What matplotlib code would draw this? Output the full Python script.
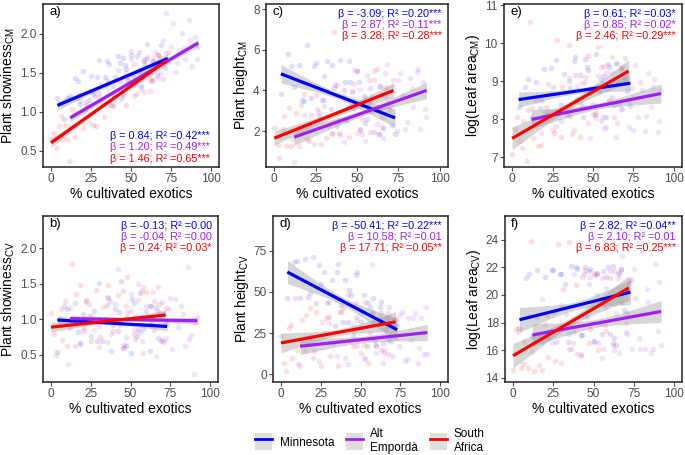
import numpy as np
import matplotlib.pyplot as plt
from matplotlib.lines import Line2D
from matplotlib.patches import Patch

plt.rcParams['font.family'] = ['Liberation Sans', 'DejaVu Sans']
plt.rcParams['mathtext.fontset'] = 'custom'
plt.rcParams['mathtext.rm'] = 'Liberation Sans'
plt.rcParams['mathtext.it'] = 'Liberation Sans:italic'
plt.rcParams['mathtext.bf'] = 'Liberation Sans:bold'

regions = ["Minnesota", "Alt\nEmpordà", "South\nAfrica"]
colors = ["#0000FF", "#A020F0", "#FF0000"]

# % cultivated exotics per site (same sites in every panel)
mn_x = [4, 8, 12, 15, 18, 20, 22, 25, 27, 30, 32, 34, 36, 38, 40, 42, 44, 46, 48, 50,
        52, 54, 56, 58, 60, 62, 64, 66, 69, 73,
        10, 17, 24, 29, 35, 39, 43, 47, 51, 55, 59, 63, 67, 71, 45]
ae_x = [12, 18, 24, 30, 35, 38, 42, 45, 48, 50, 52, 55, 57, 60, 62, 64, 66, 68, 70, 72,
        74, 76, 78, 80, 82, 84, 86, 88, 90, 92,
        27, 40, 47, 53, 58, 63, 67, 71, 75, 79, 83, 87, 91, 65, 56]
sa_x = [0, 3, 5, 7, 9, 11, 13, 15, 18, 20, 22, 25, 28, 30, 33, 36, 39, 42, 45, 48,
        50, 53, 55, 58, 60, 62, 65, 67, 70, 72,
        2, 6, 10, 16, 21, 26, 31, 37, 43, 47, 52, 57, 63, 68, 35]

# a) plant showiness CM
a_mn = [1.18, 0.91, 1.20, 1.43, 1.10, 1.52, 1.09, 1.46, 1.23, 1.66, 1.12, 1.44, 1.61, 1.23, 1.44,
        1.71, 1.18, 1.60, 1.36, 1.73, 1.45, 1.71, 1.33, 1.65, 1.87, 1.48, 1.65, 1.47, 1.85, 1.63,
        1.18, 1.39, 1.15, 1.45, 1.65, 1.33, 1.62, 1.55, 1.34, 1.77, 1.61, 1.39, 1.73, 1.56, 1.69]
a_ae = [0.82, 1.14, 0.86, 1.24, 1.40, 1.08, 1.53, 1.22, 1.40, 1.68, 1.20, 1.54, 1.41, 1.70, 1.27,
        1.69, 1.62, 1.49, 1.92, 2.27, 1.76, 2.14, 1.51, 1.79, 2.01, 1.68, 2.18, 1.58, 1.96, 1.83,
        1.20, 1.16, 1.49, 1.36, 1.67, 1.63, 1.43, 1.68, 1.83, 1.62, 1.82, 1.92, 1.67, 1.76, 1.30]
a_sa = [0.65, 0.54, 0.82, 0.65, 0.83, 0.37, 1.04, 0.67, 1.21, 0.79, 1.12, 1.27, 0.81, 1.19, 0.93,
        1.38, 1.07, 1.41, 1.21, 1.40, 1.78, 1.22, 1.50, 1.25, 1.68, 1.41, 1.60, 1.73, 1.42, 1.75,
        0.73, 0.94, 0.65, 1.18, 1.01, 0.83, 1.35, 1.09, 1.38, 1.09, 1.61, 1.48, 1.42, 1.69, 1.31]
# b) plant showiness CV
b_mn = [0.54, 1.18, 0.88, 1.23, 0.67, 1.07, 1.27, 0.76, 1.11, 1.51, 0.70, 1.00, 1.30, 0.55, 1.14,
        0.84, 1.54, 0.64, 1.03, 0.53, 1.23, 0.77, 1.37, 0.87, 1.12, 0.56, 1.01, 1.16, 0.70, 0.95,
        1.15, 0.82, 1.05, 0.70, 1.20, 0.92, 1.10, 0.62, 1.28, 0.85, 1.02, 1.18, 0.74, 1.08, 1.40]
b_ae = [1.16, 0.66, 1.21, 0.91, 1.31, 0.80, 1.70, 0.60, 1.10, 1.35, 0.85, 1.50, 0.70, 1.19, 0.94,
        1.39, 0.49, 1.09, 1.24, 0.74, 1.14, 0.59, 1.29, 0.89, 1.18, 0.63, 1.73, 0.78, 0.23, 1.03,
        0.85, 1.22, 0.75, 1.05, 1.45, 0.92, 1.12, 0.68, 1.30, 0.98, 1.08, 0.72, 0.95, 1.25, 0.82]
b_sa = [1.09, 0.50, 1.00, 0.71, 1.26, 0.37, 1.77, 0.63, 1.48, 0.84, 1.24, 0.70, 1.41, 0.61, 1.17,
        1.48, 0.83, 1.34, 0.60, 1.60, 1.11, 0.72, 1.27, 0.53, 1.38, 1.19, 0.85, 1.45, 0.71, 1.16,
        0.80, 1.15, 0.62, 1.35, 0.88, 1.05, 0.75, 1.25, 0.92, 1.18, 0.80, 1.40, 0.95, 1.22, 0.68]
# c) plant height CM
c_mn = [3.82, 5.79, 4.17, 5.27, 3.48, 6.22, 3.65, 5.36, 2.80, 4.70, 5.44, 3.08, 4.12, 2.25, 5.49,
        4.03, 2.56, 4.40, 3.14, 4.98, 2.11, 3.75, 2.59, 4.12, 1.96, 3.20, 4.24, 2.17, 3.38, 1.85,
        5.23, 3.51, 5.19, 3.54, 5.25, 2.52, 4.40, 3.17, 4.44, 2.42, 3.69, 1.87, 3.74, 2.32, 5.43]
c_ae = [0.50, 2.77, 1.34, 3.52, 1.86, 4.25, 1.46, 3.25, 5.03, 1.89, 4.05, 1.53, 3.39, 4.98, 2.34,
        4.19, 1.65, 5.31, 3.06, 4.22, 1.98, 4.84, 3.79, 2.45, 4.61, 3.17, 4.92, 2.08, 4.44, 2.70,
        2.93, 1.80, 3.91, 1.88, 3.52, 1.86, 4.88, 2.79, 4.51, 2.12, 4.14, 5.05, 3.07, 2.22, 4.76]
c_sa = [2.15, 0.65, 2.11, 1.28, 3.14, 1.61, 2.87, 1.24, 3.84, 1.60, 2.77, 3.77, 1.36, 3.23, 2.23,
        6.90, 1.92, 3.72, 1.72, 4.31, 4.98, 2.58, 3.64, 1.94, 4.51, 5.07, 2.67, 4.13, 3.23, 4.50,
        1.32, 2.75, 1.28, 3.27, 1.53, 3.10, 1.66, 4.26, 2.55, 3.98, 2.05, 4.51, 3.10, 4.17, 1.89]
# d) plant height CV
d_mn = [46, 68, 46, 70, 49, 71, 43, 55, 62, 35, 57, 29, 67, 42, 57, 32, 48, 26, 62, 32,
        48, 17, 41, 46, 17, 41, 19, 34, 20, 29,
        69, 47, 66, 43, 62, 32, 51, 60, 28, 43, 20, 44, 21, 33, 23]
d_ae = [5, 23, 8, 31, 11, 38, 6, 29, 17, 37, 10, 29, 67, 13, 35, 7, 27, 41, 11, 31,
        17, 38, 8, 34, 21, 37, 7, 34, 12, 12,
        25, 10, 35, 9, 31, 37, 12, 29, 36, 9, 34, 16, 41, 15, 25]
d_sa = [23, 2, 28, 10, 46, 6, 33, 14, 40, 10, 38, 5, 34, 44, 19, 5, 40, 48, 17, 33,
        13, 44, 7, 37, 18, 33, 13, 37, 23, 34,
        7, 30, 15, 36, 14, 32, 11, 38, 20, 43, 18, 38, 15, 35, 45]
# e) log leaf area CM
e_mn = [8.32, 8.84, 8.07, 8.99, 8.51, 9.32, 8.23, 8.85, 9.56, 8.38, 9.19, 8.11, 8.82, 9.53, 8.54,
        9.16, 8.07, 9.38, 8.79, 8.41, 9.72, 8.73, 9.14, 8.05, 9.37, 8.58, 9.49, 8.40, 9.12, 8.35,
        9.06, 8.30, 9.34, 8.18, 9.01, 9.64, 8.36, 9.29, 8.11, 9.04, 9.46, 8.39, 9.31, 8.74, 9.58]
e_ae = [8.30, 7.65, 8.70, 7.95, 9.10, 7.72, 8.46, 8.98, 7.51, 8.72, 8.04, 9.37, 7.78, 8.51, 9.23,
        7.54, 8.96, 8.28, 9.09, 7.81, 8.83, 9.44, 8.06, 8.78, 7.70, 9.21, 8.33, 9.05, 7.66, 8.78,
        7.83, 8.84, 7.90, 9.15, 7.79, 8.93, 8.27, 9.20, 7.73, 8.97, 8.10, 8.84, 7.97, 9.45, 8.07]
e_sa = [7.10, 8.07, 7.42, 7.97, 6.92, 10.57, 7.52, 8.47, 7.34, 8.19, 8.94, 7.72, 10.09, 7.54, 8.71,
        8.09, 9.16, 7.53, 9.11, 8.78, 8.13, 9.90, 7.95, 9.23, 8.48, 9.63, 7.90, 9.35, 9.62, 8.47,
        7.75, 7.25, 8.25, 7.29, 8.32, 7.64, 8.86, 7.61, 8.96, 9.66, 8.18, 9.40, 8.05, 9.37, 9.96]
# f) log leaf area CV
f_mn = [17.6, 21.2, 17.0, 21.8, 16.6, 21.3, 16.9, 21.8, 16.6, 21.5, 20.8, 16.6, 22.1, 17.3, 21.9,
        17.1, 21.5, 18.4, 21.9, 16.7, 21.5, 18.0, 21.7, 21.3, 17.2, 22.1, 16.4, 21.6, 18.9, 21.1,
        21.5, 17.1, 21.8, 21.5, 17.2, 22.0, 17.1, 21.7, 21.4, 17.2, 22.0, 16.9, 21.9, 18.7, 22.0]
f_ae = [15.9, 19.7, 16.5, 19.3, 16.1, 21.5, 15.6, 18.6, 21.3, 16.6, 20.0, 15.4, 19.1, 21.7, 16.4,
        18.7, 15.8, 22.8, 17.3, 21.1, 16.1, 19.8, 16.9, 23.2, 16.1, 19.5, 15.8, 22.2, 17.4, 16.4,
        18.8, 15.7, 20.8, 16.5, 20.5, 16.0, 19.9, 17.2, 21.9, 16.1, 20.4, 16.1, 20.9, 21.5, 16.1]
f_sa = [14.6, 17.3, 14.7, 16.7, 14.7, 23.9, 14.5, 18.4, 14.6, 17.9, 15.5, 18.7, 23.7, 15.1, 18.6,
        16.1, 20.7, 15.7, 21.8, 17.5, 21.6, 16.0, 21.2, 17.4, 21.2, 16.5, 21.2, 21.8, 18.0, 20.8,
        17.5, 15.0, 18.5, 14.9, 18.5, 15.2, 20.4, 16.5, 21.3, 16.5, 21.6, 17.8, 21.7, 19.4, 23.8]

# fitted lines: x range per region, (y at start, y at end) per panel
line_x = [(4, 73), (12, 92), (0, 72)]
a_line = [(1.08, 1.68), (0.92, 1.88), (0.60, 1.65)]
b_line = [(0.99, 0.90), (1.01, 0.98), (0.89, 1.06)]
c_line = [(4.82, 2.65), (1.70, 4.00), (1.65, 4.00)]
d_line = [(62.0, 27.0), (17.0, 25.3), (19.0, 31.8)]
e_line = [(8.52, 8.95), (8.00, 8.68), (7.50, 9.27)]
f_line = [(18.2, 20.2), (17.1, 18.8), (15.6, 20.5)]

# confidence band half widths (centre, ends)
a_ci = [(0.025, 0.06), (0.02, 0.05), (0.025, 0.06)]
b_ci = [(0.02, 0.06), (0.02, 0.05), (0.02, 0.07)]
c_ci = [(0.15, 0.45), (0.15, 0.40), (0.15, 0.35)]
d_ci = [(2.5, 7.0), (2.0, 5.0), (2.0, 6.0)]
e_ci = [(0.07, 0.20), (0.08, 0.25), (0.10, 0.30)]
f_ci = [(0.3, 0.9), (0.3, 0.8), (0.3, 0.9)]

a_stats = [("0.84", "0.42***"), ("1.20", "0.49***"), ("1.46", "0.65***")]
b_stats = [("-0.13", "0.00"), ("-0.04", "0.00"), ("0.24", "0.03*")]
c_stats = [("-3.09", "0.20***"), ("2.87", "0.11***"), ("3.28", "0.28***")]
d_stats = [("-50.41", "0.22***"), ("10.58", "0.01"), ("17.71", "0.05**")]
e_stats = [("0.61", "0.03*"), ("0.85", "0.02*"), ("2.46", "0.29***")]
f_stats = [("2.82", "0.04**"), ("2.10", "0.01"), ("6.83", "0.25***")]

W, H = 685, 455
fig = plt.figure(figsize=(W / 100, H / 100), dpi=100)

# (label, ylabel, ys, lines, ci, stats, ylim, yticks, box px (l, r, t, b), text at bottom)
panels = [
    ("a)", "Plant showiness$_{\\mathrm{CM}}$", (a_mn, a_ae, a_sa), a_line, a_ci, a_stats,
     (0.29, 2.38), [0.5, 1.0, 1.5, 2.0], (43, 219, 4, 167), True),
    ("c)", "Plant height$_{\\mathrm{CM}}$", (c_mn, c_ae, c_sa), c_line, c_ci, c_stats,
     (0.23, 8.26), [2, 4, 6, 8], (266, 448, 4, 167), False),
    ("e)", "log(Leaf area$_{\\mathrm{CM}}$)", (e_mn, e_ae, e_sa), e_line, e_ci, e_stats,
     (6.75, 11.03), [7, 8, 9, 10, 11], (504, 682, 4, 167), False),
    ("b)", "Plant showiness$_{\\mathrm{CV}}$", (b_mn, b_ae, b_sa), b_line, b_ci, b_stats,
     (0.12, 2.45), [0.5, 1.0, 1.5, 2.0], (43, 218, 216, 382), False),
    ("d)", "Plant height$_{\\mathrm{CV}}$", (d_mn, d_ae, d_sa), d_line, d_ci, d_stats,
     (-4.7, 96), [0, 25, 50, 75], (273, 448, 216, 382), False),
    ("f)", "log(Leaf area$_{\\mathrm{CV}}$)", (f_mn, f_ae, f_sa), f_line, f_ci, f_stats,
     (13.7, 25.7), [14, 16, 18, 20, 22, 24], (505, 682, 216, 382), False),
]

xs = (mn_x, ae_x, sa_x)

for label, ylabel, ys, lines, ci, stats, ylim, yticks, box, bottom_text in panels:
    l, r, t, b = box
    ax = fig.add_axes([l / W, 1 - b / H, (r - l) / W, (b - t) / H])
    for x, y, c in zip(xs, ys, colors):
        ax.scatter(x, y, s=16, color=c, alpha=0.13, linewidths=0, zorder=1)
    for (x0, x1), (y0, y1), (cw, ew), c in zip(line_x, lines, ci, colors):
        xx = np.linspace(x0, x1, 60)
        yy = np.interp(xx, [x0, x1], [y0, y1])
        xm = (x0 + x1) / 2
        hw = np.sqrt(cw ** 2 + (ew ** 2 - cw ** 2) * ((xx - xm) / (x1 - xm)) ** 2)
        ax.fill_between(xx, yy - hw, yy + hw, color="#999999", alpha=0.4, linewidth=0, zorder=2)
        ax.plot(xx, yy, color=c, lw=2.3, solid_capstyle="butt", zorder=3)
    ax.set_xlim(-5, 105)
    ax.set_ylim(*ylim)
    ax.set_xticks([0, 25, 50, 75, 100])
    ax.set_yticks(yticks)
    ax.tick_params(colors="#4d4d4d", labelsize=8.5, length=3, width=0.8, pad=1.5)
    for s in ax.spines.values():
        s.set_color("#222222")
        s.set_linewidth(1.1)
    ax.set_xlabel("% cultivated exotics", fontsize=10, labelpad=1)
    ax.set_ylabel(ylabel, fontsize=10, labelpad=2)
    ax.text(0.035, 0.95, label, transform=ax.transAxes, fontsize=9.5, va="center", ha="left")
    if bottom_text:
        ypos = [0.19, 0.123, 0.052]
        xpos = 0.95
    else:
        ypos = [0.94, 0.873, 0.806]
        xpos = 0.965
    for (beta, r2), c, yp in zip(stats, colors, ypos):
        ax.text(xpos, yp, "β = %s; R² =%s" % (beta, r2), transform=ax.transAxes,
                color=c, fontsize=7.8, ha="right", va="center")

handles = [(Patch(facecolor="#dedede", edgecolor="none"), Line2D([], [], color=c, lw=2.0))
           for c in colors]
fig.legend(handles, regions, loc="center", bbox_to_anchor=(370 / W, 1 - 441 / H), ncol=3,
           frameon=False, fontsize=8.5, handlelength=1.45, handleheight=1.9, columnspacing=1.0,
           handletextpad=0.6)

fig.savefig("out.png", dpi=100)
